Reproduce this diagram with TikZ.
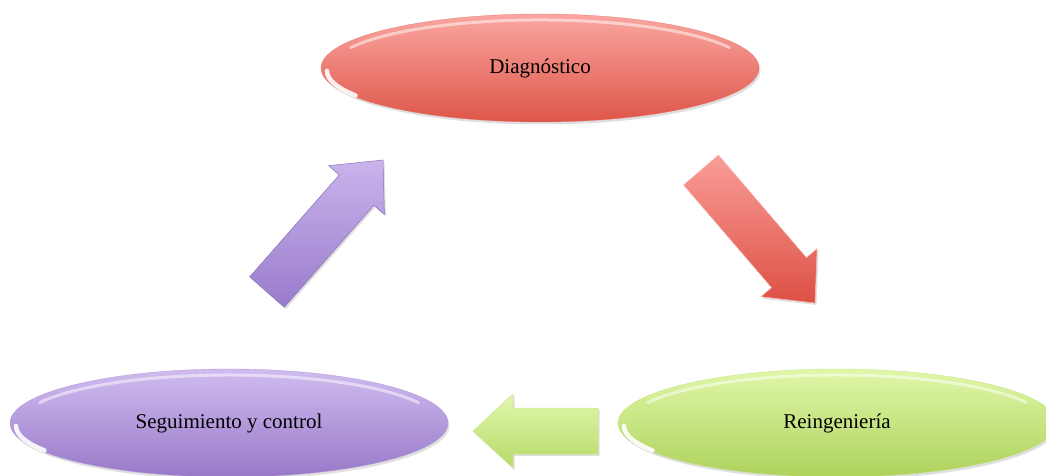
\documentclass[tikz,border=0pt]{standalone}
\usepackage{fontspec}
\setmainfont{Liberation Serif}
\usetikzlibrary{shapes.geometric,shadows,calc}
\definecolor{redT}{HTML}{FAA6A0}
\definecolor{redB}{HTML}{DE5649}
\definecolor{purT}{HTML}{CFBCEF}
\definecolor{purB}{HTML}{9878C8}
\definecolor{grnT}{HTML}{E0F7A9}
\definecolor{grnB}{HTML}{AED25B}
\definecolor{raT}{HTML}{F99D97}
\definecolor{raB}{HTML}{DD5044}
\definecolor{paT}{HTML}{C9B4EC}
\definecolor{paB}{HTML}{9A7BCC}
\definecolor{gaT}{HTML}{E2F7AC}
\definecolor{gaB}{HTML}{B6DA68}
\newcommand\myblockarrow[4]{%
  \coordinate (#1T) at #2;
  \coordinate (#1H) at #3;
  \coordinate (#1N) at ($(#1H)!40pt!(#1T)$);
  \shade[#4] ($(#1T)!23pt!90:(#1H)$) -- ($(#1N)!23pt!90:(#1H)$) -- ($(#1N)!37pt!90:(#1H)$)
    -- (#1H) -- ($(#1N)!37pt!-90:(#1H)$) -- ($(#1N)!23pt!-90:(#1H)$) -- ($(#1T)!23pt!-90:(#1H)$) -- cycle;}
\begin{document}
\begin{tikzpicture}[x=1pt,y=-1pt,
  bubble/.style={ellipse, minimum width=438pt, minimum height=108pt, inner sep=0pt,
    font=\fontsize{21}{25}\selectfont, line width=0.3pt,
    drop shadow={opacity=0.25, shadow xshift=1.5pt, shadow yshift=-2.5pt}},
  gloss/.style={white, opacity=0.5, line width=3pt, line cap=round},
  spot/.style={white, opacity=0.9, line width=4.5pt, line cap=round},
  blockarr/.style={line width=0.5pt, line join=miter,
    drop shadow={opacity=0.25, shadow xshift=1.5pt, shadow yshift=-2pt}}]
\useasboundingbox (0,0) rectangle (1046,476);

\node[bubble, top color=redT, bottom color=redB, draw=redB!60!redT] (d) at (540,68) {Diagnóstico};
\node[bubble, top color=purT, bottom color=purB, draw=purB!60!purT] (s) at (229,423) {Seguimiento y control};
\node[bubble, top color=grnT, bottom color=grnB, draw=grnB!60!grnT] (r) at (837,423) {Reingeniería};

\foreach \cx/\cy in {540/68, 229/423, 837/423}{
  \draw[gloss] (\cx-189.4,\cy-20.3) arc[start angle=205, end angle=335, x radius=209, y radius=48];
  \draw[spot] (\cx-213,\cy+3) arc[start angle=180, end angle=150, x radius=213, y radius=49];
}

\myblockarrow{ra}{(701,170)}{(815,303)}{blockarr, top color=raT, bottom color=raB, draw=raT!70!white}
\myblockarrow{pa}{(267,292)}{(383,160)}{blockarr, top color=paT, bottom color=paB, draw=paB!90!black}
\myblockarrow{ga}{(598,431)}{(473,431)}{blockarr, top color=gaT, bottom color=gaB, draw=gaB!70!white}
\end{tikzpicture}
\end{document}
